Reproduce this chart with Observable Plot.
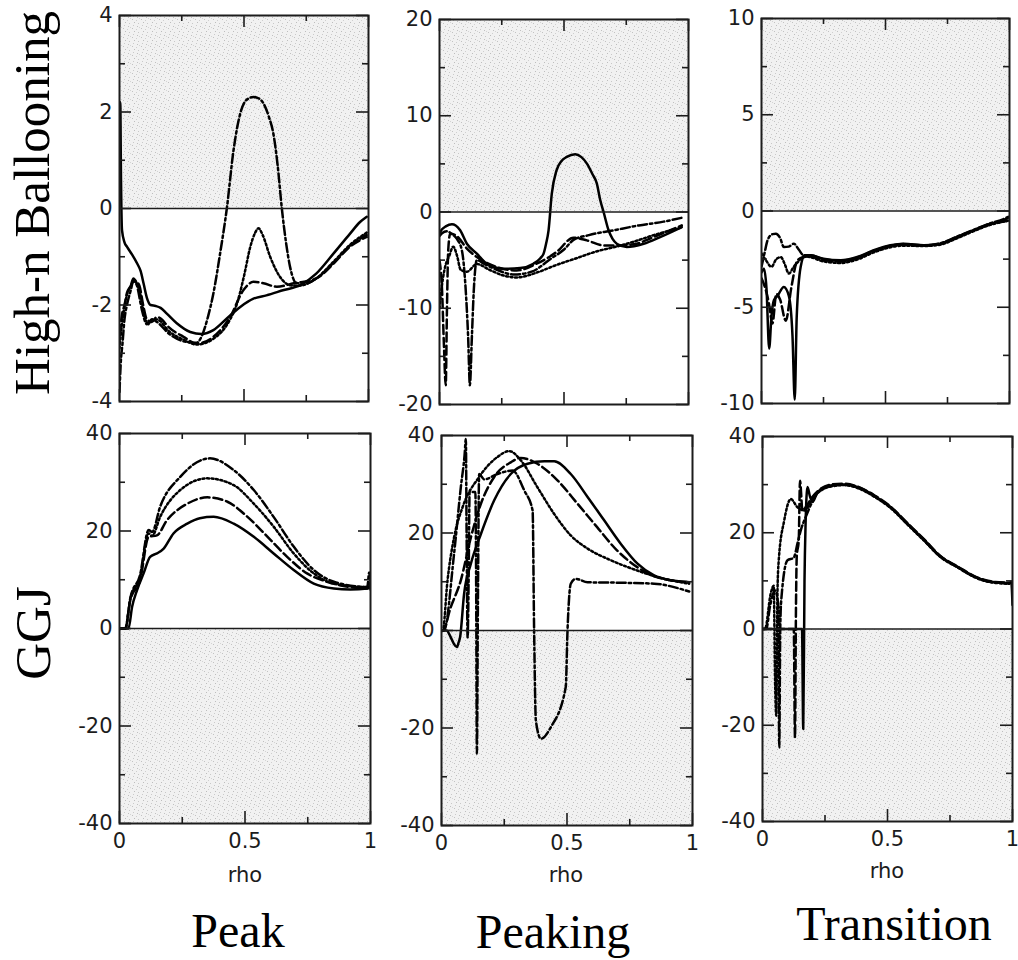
<!DOCTYPE html>
<html><head><meta charset="utf-8">
<script src="https://cdn.jsdelivr.net/npm/d3@7"></script>
<script src="https://cdn.jsdelivr.net/npm/@observablehq/plot@0.6"></script>
<style>
html,body{margin:0;padding:0;background:#fff;overflow:hidden}
#root{position:relative;width:1018px;height:960px;background:#fff}
.panel{position:absolute}
.panel svg{overflow:visible;background:transparent}
.panel svg text{font-size:21px !important;font-family:'DejaVu Sans',sans-serif !important}
#overlay{position:absolute;left:0;top:0;pointer-events:none}
</style></head><body>
<div id="root">
<svg width="0" height="0" style="position:absolute;left:0;top:0">
<defs>
<pattern id="stipple" width="9" height="9" patternUnits="userSpaceOnUse">
<rect width="9" height="9" fill="#f1f1f1"/>
<rect x="1" y="1" width="1" height="1" fill="#c2c2c2"/>
<rect x="5" y="2" width="1" height="1" fill="#cfcfcf"/>
<rect x="3" y="4" width="1" height="1" fill="#bdbdbd"/>
<rect x="7" y="5" width="1" height="1" fill="#c8c8c8"/>
<rect x="2" y="7" width="1" height="1" fill="#cacaca"/>
<rect x="6" y="8" width="1" height="1" fill="#c0c0c0"/>
<rect x="8" y="0" width="1" height="1" fill="#d4d4d4"/>
</pattern>
</defs>
</svg>
</div>
<script>
// ---------- tick values ----------
const xMajor = [0, 0.5, 1];
const xMinor = [0.25, 0.75];
const xDomain = [0, 1];
const yDomainPkB = [-4, 4], yMajorPkB = [-4, -2, 0, 2, 4], yMinorPkB = [-3, -1, 1, 3];
const yDomainPgB = [-20, 20], yMajorPgB = [-20, -10, 0, 10, 20], yMinorPgB = [-15, -5, 5, 15];
const yDomainTrB = [-10, 10], yMajorTrB = [-10, -5, 0, 5, 10], yMinorTrB = [-7.5, -2.5, 2.5, 7.5];
const yDomainG = [-40, 40], yMajorG = [-40, -20, 0, 20, 40], yMinorG = [-30, -10, 10, 30];

const rowLabels = ["High-n Ballooning", "GGJ"];
const colLabels = ["Peak", "Peaking", "Transition"];
const xLabel = "rho";

// ---------- Peak, High-n Ballooning ----------
const pkBSolid = [[0,2.1],[0.003,2.2],[0.006,0.6],[0.01,-0.45],[0.02,-0.7],[0.031,-0.8],[0.05,-0.95],[0.071,-1.14],[0.085,-1.3],[0.097,-1.56],[0.11,-1.85],[0.125,-2.0],[0.145,-2.02],[0.165,-2.06],[0.19,-2.18],[0.23,-2.38],[0.284,-2.56],[0.33,-2.6],[0.377,-2.52],[0.431,-2.28],[0.485,-2.04],[0.538,-1.87],[0.59,-1.8],[0.66,-1.69],[0.726,-1.59],[0.79,-1.35],[0.86,-0.93],[0.926,-0.52],[0.966,-0.28],[0.993,-0.17]];
const pkBDash = [[0,-2.6],[0.01,-2.2],[0.02,-2.0],[0.03,-1.75],[0.045,-1.6],[0.056,-1.45],[0.065,-1.5],[0.08,-1.6],[0.095,-2.0],[0.11,-2.3],[0.13,-2.35],[0.15,-2.25],[0.17,-2.3],[0.19,-2.42],[0.257,-2.66],[0.31,-2.8],[0.377,-2.66],[0.444,-2.25],[0.498,-1.69],[0.538,-1.52],[0.578,-1.55],[0.632,-1.62],[0.70,-1.55],[0.79,-1.45],[0.86,-1.14],[0.926,-0.79],[0.993,-0.59]];
const pkBDot = [[0,-2.9],[0.01,-2.4],[0.025,-1.9],[0.045,-1.6],[0.06,-1.5],[0.08,-1.7],[0.1,-2.2],[0.115,-2.4],[0.13,-2.3],[0.15,-2.3],[0.2,-2.55],[0.257,-2.72],[0.31,-2.82],[0.377,-2.7],[0.444,-2.3],[0.47,-2.0],[0.5,-1.4],[0.525,-0.8],[0.545,-0.5],[0.558,-0.41],[0.575,-0.55],[0.605,-1.0],[0.645,-1.42],[0.685,-1.59],[0.72,-1.6],[0.79,-1.45],[0.86,-1.1],[0.926,-0.75],[0.993,-0.5]];
const pkBDashDot = [[0,-3.8],[0.005,-3.2],[0.012,-2.8],[0.02,-2.3],[0.03,-2.0],[0.045,-1.7],[0.056,-1.5],[0.07,-1.6],[0.09,-2.1],[0.11,-2.4],[0.13,-2.3],[0.15,-2.35],[0.2,-2.6],[0.257,-2.75],[0.31,-2.78],[0.33,-2.65],[0.355,-2.25],[0.377,-1.76],[0.405,-0.9],[0.431,0],[0.458,1.21],[0.485,1.97],[0.51,2.25],[0.538,2.31],[0.56,2.28],[0.578,2.18],[0.6,1.9],[0.618,1.55],[0.635,0.9],[0.652,0],[0.67,-0.75],[0.685,-1.21],[0.712,-1.55],[0.75,-1.55],[0.79,-1.45],[0.86,-1.12],[0.926,-0.77],[0.993,-0.55]];

// ---------- Peaking, High-n Ballooning ----------
const pgBSolid = [[0,-2.2],[0.01,-1.8],[0.025,-1.5],[0.05,-1.28],[0.065,-1.4],[0.083,-1.9],[0.11,-3.3],[0.15,-4.33],[0.19,-5.37],[0.257,-5.9],[0.324,-5.82],[0.377,-5.37],[0.405,-4.8],[0.418,-4.33],[0.428,-3.3],[0.438,-1.9],[0.451,1.9],[0.47,4.33],[0.49,5.3],[0.511,5.72],[0.545,6.0],[0.57,5.7],[0.592,5.03],[0.615,3.9],[0.632,2.95],[0.645,1.3],[0.659,0],[0.679,-1.9],[0.695,-2.8],[0.712,-3.29],[0.752,-3.64],[0.82,-3.3],[0.886,-2.6],[0.973,-1.56]];
const pgBDash = [[0,-5],[0.01,-8],[0.018,-14],[0.025,-18],[0.03,-10],[0.035,-4],[0.043,-2.25],[0.07,-2.5],[0.11,-3.8],[0.15,-4.68],[0.23,-5.72],[0.31,-6.07],[0.39,-5.37],[0.47,-4.16],[0.538,-2.67],[0.592,-2.95],[0.659,-3.47],[0.72,-3.47],[0.79,-3.3],[0.86,-2.6],[0.973,-1.39]];
const pgBDot = [[0,-10],[0.008,-8],[0.02,-6],[0.04,-4.5],[0.055,-3.6],[0.07,-4.5],[0.085,-6],[0.11,-6.2],[0.15,-5.4],[0.2,-6.0],[0.257,-6.6],[0.31,-6.8],[0.39,-6.3],[0.47,-5.5],[0.55,-4.8],[0.63,-4.1],[0.71,-3.6],[0.79,-3.0],[0.86,-2.4],[0.973,-1.6]];
const pgBDashDot = [[0,-2.5],[0.01,-2.2],[0.03,-2.0],[0.05,-2.3],[0.07,-2.8],[0.09,-4],[0.105,-8],[0.115,-13],[0.122,-18],[0.13,-13],[0.138,-8],[0.15,-5],[0.18,-5.4],[0.23,-6.0],[0.3,-6.5],[0.37,-6.2],[0.45,-4.8],[0.5,-3.9],[0.538,-2.9],[0.6,-2.4],[0.7,-1.9],[0.8,-1.4],[0.9,-1.0],[0.973,-0.6]];

// ---------- Transition, High-n Ballooning ----------
const trBSolid = [[0,-3.2],[0.01,-3.0],[0.02,-4.0],[0.031,-7.15],[0.04,-5.5],[0.05,-4.64],[0.065,-4.4],[0.09,-3.95],[0.11,-4.4],[0.125,-6.5],[0.134,-9.8],[0.142,-5.5],[0.158,-2.9],[0.175,-2.3],[0.198,-2.3],[0.25,-2.48],[0.32,-2.56],[0.386,-2.39],[0.453,-2.04],[0.52,-1.78],[0.574,-1.7],[0.654,-1.78],[0.72,-1.7],[0.788,-1.35],[0.855,-1.0],[0.922,-0.66],[0.976,-0.48],[0.995,-0.35]];
const trBDash = [[0,-3.5],[0.015,-4.0],[0.03,-4.8],[0.044,-5.85],[0.06,-4.3],[0.075,-4.6],[0.098,-5.7],[0.12,-4.0],[0.145,-2.56],[0.17,-2.4],[0.198,-2.35],[0.25,-2.55],[0.32,-2.62],[0.386,-2.45],[0.453,-2.1],[0.52,-1.82],[0.574,-1.75],[0.654,-1.8],[0.72,-1.72],[0.788,-1.38],[0.855,-1.02],[0.922,-0.7],[0.976,-0.55],[0.995,-0.5]];
const trBDot = [[0,-2.2],[0.02,-2.6],[0.04,-2.9],[0.06,-2.5],[0.078,-2.4],[0.095,-2.8],[0.11,-3.25],[0.13,-2.9],[0.15,-2.6],[0.17,-2.35],[0.198,-2.4],[0.25,-2.62],[0.32,-2.7],[0.386,-2.52],[0.453,-2.15],[0.52,-1.88],[0.574,-1.8],[0.654,-1.82],[0.72,-1.75],[0.788,-1.42],[0.855,-1.05],[0.922,-0.72],[0.976,-0.55],[0.995,-0.5]];
const trBDashDot = [[0,-2.9],[0.012,-2.2],[0.025,-1.5],[0.045,-1.2],[0.058,-1.18],[0.075,-1.4],[0.09,-1.87],[0.11,-1.85],[0.13,-1.7],[0.15,-2.0],[0.17,-2.3],[0.198,-2.3],[0.25,-2.5],[0.32,-2.58],[0.386,-2.42],[0.453,-2.06],[0.52,-1.8],[0.574,-1.72],[0.654,-1.78],[0.72,-1.68],[0.788,-1.33],[0.855,-0.98],[0.922,-0.64],[0.976,-0.42],[0.995,-0.3]];

// ---------- Peak, GGJ ----------
const pkGSolid = [[0,0],[0.036,0],[0.05,4.4],[0.07,7.9],[0.096,11.3],[0.122,14.7],[0.149,15.4],[0.176,16.4],[0.215,19.5],[0.27,21.5],[0.32,22.6],[0.375,22.9],[0.455,21.5],[0.535,18.8],[0.614,15.4],[0.694,12.0],[0.774,9.2],[0.854,8.2],[0.92,8.0],[0.987,8.2],[1.0,8.5]];
const pkGDash = [[0,0],[0.023,0],[0.043,5.8],[0.082,9.9],[0.116,18.8],[0.149,19.1],[0.189,22.2],[0.27,25.6],[0.35,26.9],[0.43,26.0],[0.51,22.9],[0.59,18.8],[0.668,14.7],[0.747,11.3],[0.827,9.6],[0.92,8.5],[0.987,8.2],[1.0,9]];
const pkGDot = [[0,0],[0.023,0],[0.043,6.0],[0.082,10.5],[0.116,19.5],[0.13,19.0],[0.162,22.9],[0.242,28.4],[0.35,30.8],[0.455,29.4],[0.535,25.6],[0.614,20.9],[0.694,15.4],[0.774,11.3],[0.854,9.2],[0.987,8.5],[1.0,10]];
const pkGDashDot = [[0,0],[0.023,0],[0.043,6.2],[0.082,11],[0.116,20.2],[0.13,19.8],[0.162,25],[0.242,31.1],[0.36,34.9],[0.455,32.5],[0.535,28.4],[0.614,22.9],[0.694,16.8],[0.774,12],[0.854,9.6],[0.987,8.5],[0.995,11.5],[1.0,8]];

// ---------- Peaking, GGJ ----------
const pgGSolid = [[0,0],[0.02,0],[0.037,-1.4],[0.05,-2.8],[0.061,-3.4],[0.068,-2.5],[0.074,-1.4],[0.09,7.5],[0.117,13.7],[0.157,19.8],[0.21,26.7],[0.276,32.1],[0.343,34.2],[0.41,34.7],[0.449,34.7],[0.515,32.1],[0.582,27.4],[0.648,22.6],[0.714,17.8],[0.781,13.7],[0.847,11.3],[0.914,10.3],[0.987,9.9]];
const pgGDash = [[0,0],[0.005,0],[0.037,4.8],[0.077,10.3],[0.117,19.1],[0.157,26],[0.21,31.5],[0.276,34.5],[0.316,35.4],[0.382,34.2],[0.462,30.8],[0.542,26],[0.62,21.2],[0.70,16.4],[0.78,13],[0.86,10.9],[0.987,9.9]];
const pgGDot = [[0,0],[0.005,0],[0.024,10.3],[0.05,19.1],[0.084,25.3],[0.15,31.5],[0.223,35.6],[0.27,36.8],[0.316,34.9],[0.382,29.4],[0.449,23.9],[0.515,19.5],[0.582,16.8],[0.675,14.4],[0.78,12.3],[0.887,10.6],[0.987,9.6]];
const pgGDashDot = [[0,0],[0.01,0],[0.05,15.7],[0.077,29.4],[0.092,36],[0.097,39.3],[0.1,20],[0.104,-1.4],[0.108,10],[0.112,28.4],[0.135,28.4],[0.138,10],[0.141,-25.3],[0.145,5],[0.15,32.1],[0.17,31],[0.223,32.1],[0.283,32.8],[0.33,28.7],[0.363,24.6],[0.369,0],[0.376,-18.5],[0.396,-22.2],[0.436,-19.8],[0.495,-11.6],[0.502,0],[0.515,9.6],[0.535,10.6],[0.582,9.9],[0.714,9.8],[0.847,9.6],[0.987,8.0]];

// ---------- Transition, GGJ ----------
const trGSolid = [[0,0],[0.158,0],[0.163,-20.8],[0.168,10],[0.172,21.2],[0.18,29.5],[0.19,27.5],[0.2,26.4],[0.22,28.4],[0.273,29.8],[0.327,30],[0.38,29.5],[0.447,27.7],[0.513,25.3],[0.58,21.9],[0.647,18.5],[0.713,15],[0.78,12.9],[0.847,10.9],[0.913,9.8],[0.987,9.5],[0.995,9.8],[1.0,5]];
const trGDash = [[0,0],[0.125,0],[0.13,-22.5],[0.134,5],[0.137,15],[0.145,18.5],[0.15,30.8],[0.16,24.6],[0.175,25.5],[0.2,27.5],[0.22,28.6],[0.273,30],[0.327,30.2],[0.38,29.6],[0.447,27.8],[0.513,25.4],[0.58,22],[0.647,18.6],[0.713,15.1],[0.78,13],[0.847,11],[0.913,9.9],[0.987,9.6]];
const trGDot = [[0,0],[0.01,0],[0.033,7.4],[0.045,9],[0.05,-10],[0.055,-18],[0.06,8],[0.065,14.3],[0.087,22.6],[0.113,27],[0.14,25.3],[0.167,24.6],[0.2,27],[0.22,28.2],[0.273,29.6],[0.327,29.9],[0.38,29.3],[0.447,27.5],[0.513,25.1],[0.58,21.7],[0.647,18.3],[0.713,14.9],[0.78,12.8],[0.847,10.8],[0.913,9.7],[0.987,9.4]];
const trGDashDot = [[0,0],[0.015,0],[0.03,4.7],[0.05,8],[0.063,5],[0.067,-24.6],[0.071,0],[0.075,6],[0.1,14.3],[0.125,14.8],[0.14,17.8],[0.153,20.5],[0.173,23.3],[0.2,26.5],[0.22,28.3],[0.273,29.7],[0.327,30],[0.38,29.4],[0.447,27.6],[0.513,25.2],[0.58,21.8],[0.647,18.4],[0.713,15],[0.78,12.9],[0.847,10.9],[0.913,9.8],[0.987,9.5]];

// ---------- styles ----------
const styleSolid = {strokeDasharray: null};
const styleDash = {strokeDasharray: "9,4"};
const styleDot = {strokeDasharray: "2,2.5"};
const styleDashDot = {strokeDasharray: "9,3,2.5,3"};

const panels = [
  {frame:{l:119,t:15,r:368,b:401}, yDomain:yDomainPkB, yMajor:yMajorPkB, yMinor:yMinorPkB, shade:"above", bottom:false, series:[pkBSolid,pkBDash,pkBDot,pkBDashDot]},
  {frame:{l:439,t:19,r:688,b:404}, yDomain:yDomainPgB, yMajor:yMajorPgB, yMinor:yMinorPgB, shade:"above", bottom:false, series:[pgBSolid,pgBDash,pgBDot,pgBDashDot]},
  {frame:{l:761,t:18,r:1009,b:403}, yDomain:yDomainTrB, yMajor:yMajorTrB, yMinor:yMinorTrB, shade:"above", bottom:false, series:[trBSolid,trBDash,trBDot,trBDashDot]},
  {frame:{l:119,t:433,r:370,b:823}, yDomain:yDomainG, yMajor:yMajorG, yMinor:yMinorG, shade:"below", bottom:true, series:[pkGSolid,pkGDash,pkGDot,pkGDashDot]},
  {frame:{l:441,t:435,r:692,b:825}, yDomain:yDomainG, yMajor:yMajorG, yMinor:yMinorG, shade:"below", bottom:true, series:[pgGSolid,pgGDash,pgGDot,pgGDashDot]},
  {frame:{l:762,t:436,r:1012,b:821}, yDomain:yDomainG, yMajor:yMajorG, yMinor:yMinorG, shade:"below", bottom:true, series:[trGSolid,trGDash,trGDot,trGDashDot]}
];
const seriesStyles = [styleSolid, styleDash, styleDot, styleDashDot];

const root = document.getElementById("root");
const INK = "#1c1c1c";
const MAJ = 12, MIN = 6;

panels.forEach(p => {
  const mL = 60, mT = 15, mR = 6, mB = p.bottom ? 70 : 8;
  const w = p.frame.r - p.frame.l, h = p.frame.b - p.frame.t;
  const region = p.shade === "above"
    ? {x1: xDomain[0], x2: xDomain[1], y1: 0, y2: p.yDomain[1]}
    : {x1: xDomain[0], x2: xDomain[1], y1: p.yDomain[0], y2: 0};
  const marks = [
    Plot.rect([region], {x1: "x1", x2: "x2", y1: "y1", y2: "y2", fill: "url(#stipple)"}),
    ...p.series.map((s, i) => Plot.line(s, {x: d => d[0], y: d => d[1], stroke: "#000", strokeWidth: 2.5, curve: "monotone-x", clip: true, ...seriesStyles[i]})),
    Plot.ruleY([0], {stroke: INK, strokeWidth: 1.6}),
    // inward ticks: left / right
    Plot.tickY(p.yMajor, {y: d => d, insetRight: w - MAJ, stroke: INK, strokeWidth: 1.6}),
    Plot.tickY(p.yMajor, {y: d => d, insetLeft: w - MAJ, stroke: INK, strokeWidth: 1.6}),
    Plot.tickY(p.yMinor, {y: d => d, insetRight: w - MIN, stroke: INK, strokeWidth: 1.6}),
    Plot.tickY(p.yMinor, {y: d => d, insetLeft: w - MIN, stroke: INK, strokeWidth: 1.6}),
    // inward ticks: top / bottom
    Plot.tickX(xMajor, {x: d => d, insetBottom: h - MAJ, stroke: INK, strokeWidth: 1.6}),
    Plot.tickX(xMajor, {x: d => d, insetTop: h - MAJ, stroke: INK, strokeWidth: 1.6}),
    Plot.tickX(xMinor, {x: d => d, insetBottom: h - MIN, stroke: INK, strokeWidth: 1.6}),
    Plot.tickX(xMinor, {x: d => d, insetTop: h - MIN, stroke: INK, strokeWidth: 1.6}),
    Plot.frame({stroke: INK, strokeWidth: 2}),
    Plot.axisY({ticks: p.yMajor, tickSize: 0, tickPadding: 7, tickFormat: d => String(d), fontSize: 21, fill: INK, label: null})
  ];
  if (p.bottom) {
    marks.push(Plot.axisX({ticks: xMajor, tickSize: 0, tickPadding: 10, tickFormat: d => String(d), fontSize: 21, fill: INK, label: null}));
  }
  const chart = Plot.plot({
    width: mL + w + mR, height: mT + h + mB,
    marginLeft: mL, marginRight: mR, marginTop: mT, marginBottom: mB,
    x: {domain: xDomain, axis: null},
    y: {domain: p.yDomain, axis: null},
    style: {fontFamily: "DejaVu Sans", fontSize: "21px", color: INK, background: "transparent", overflow: "visible"},
    marks
  });
  const div = document.createElement("div");
  div.className = "panel";
  div.style.left = (p.frame.l - mL) + "px";
  div.style.top = (p.frame.t - mT) + "px";
  div.style.width = (mL + w + mR) + "px";
  div.appendChild(chart);
  root.appendChild(div);
});

// ---------- overlay text: row / column / axis labels ----------
const ns = "http://www.w3.org/2000/svg";
const ov = document.createElementNS(ns, "svg");
ov.setAttribute("id", "overlay");
ov.setAttribute("width", 1018);
ov.setAttribute("height", 960);
function addText(str, x, y, opts) {
  const t = document.createElementNS(ns, "text");
  t.textContent = str;
  t.setAttribute("x", 0); t.setAttribute("y", 0);
  t.setAttribute("transform", `translate(${x},${y})` + (opts.rotate ? ` rotate(${opts.rotate})` : ""));
  t.setAttribute("text-anchor", "middle");
  t.setAttribute("font-family", opts.family);
  t.setAttribute("font-size", opts.size);
  t.setAttribute("fill", opts.fill || "#000");
  ov.appendChild(t);
}
const serif = "'Liberation Serif', 'Times New Roman', serif";
addText(rowLabels[0], 49, 203, {rotate: -90, family: serif, size: 51});
addText(rowLabels[1], 50, 633, {rotate: -90, family: serif, size: 51});
addText(colLabels[0], 238, 947, {family: serif, size: 48});
addText(colLabels[1], 553, 948, {family: serif, size: 48});
addText(colLabels[2], 894, 940, {family: serif, size: 48});
addText(xLabel, 245, 882, {family: "DejaVu Sans", size: 21, fill: INK});
addText(xLabel, 566, 882, {family: "DejaVu Sans", size: 21, fill: INK});
addText(xLabel, 887, 878, {family: "DejaVu Sans", size: 21, fill: INK});
root.appendChild(ov);
</script>
</body></html>
